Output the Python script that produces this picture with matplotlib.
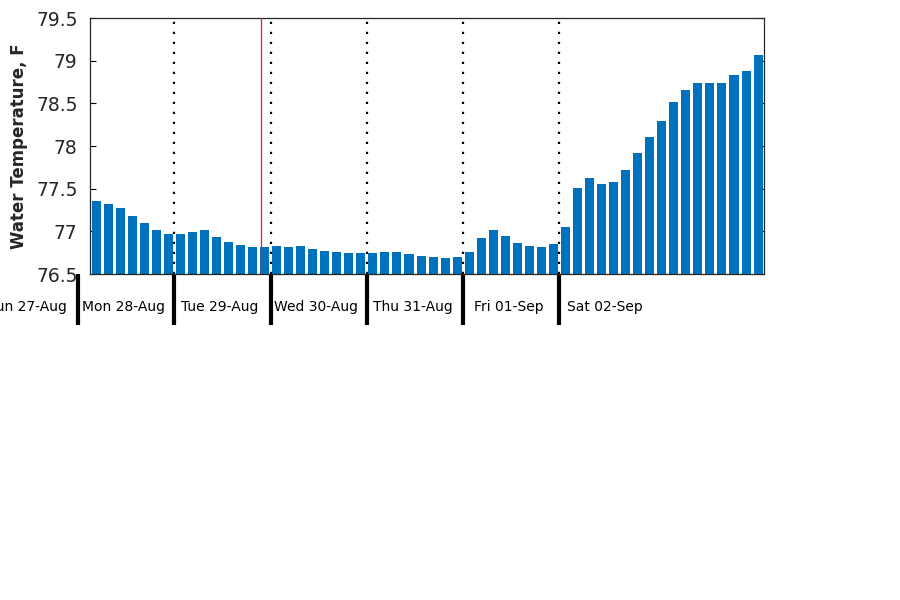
import matplotlib
matplotlib.use("Agg")
import matplotlib.pyplot as plt
import matplotlib.transforms as mtransforms

temps = [77.355, 77.320, 77.273, 77.180, 77.098, 77.016, 76.969, 76.969,
         76.992, 77.016, 76.934, 76.875, 76.840, 76.816, 76.816, 76.828,
         76.816, 76.828, 76.793, 76.770, 76.758, 76.746, 76.746, 76.746,
         76.758, 76.758, 76.734, 76.711, 76.699, 76.688, 76.699, 76.758,
         76.922, 77.016, 76.945, 76.863, 76.828, 76.816, 76.852, 77.051,
         77.508, 77.625, 77.555, 77.578, 77.719, 77.918, 78.105, 78.293,
         78.516, 78.656, 78.738, 78.738, 78.738, 78.832, 78.879, 79.066]
day_labels = ["Sun 27-Aug", "Mon 28-Aug", "Tue 29-Aug", "Wed 30-Aug",
              "Thu 31-Aug", "Fri 01-Sep", "Sat 02-Sep"]
day_starts = [-9.5, -1.5, 6.5, 14.5, 22.5, 30.5, 38.5]
now_x = 13.73
yticks = [76.5, 77, 77.5, 78, 78.5, 79, 79.5]
ytick_labels = ["76.5", "77", "77.5", "78", "78.5", "79", "79.5"]

fig = plt.figure(figsize=(9, 6), dpi=100)
ax = fig.add_axes([0.1, 0.5433, 0.749, 0.4267])

x = list(range(len(temps)))
ax.bar(x, [t - 76.5 for t in temps], bottom=76.5, width=0.75, color="#0072BD", zorder=2)
ax.set_xlim(-0.5, 55.5)
ax.set_ylim(76.5, 79.5)
ax.set_yticks(yticks)
ax.set_yticklabels(ytick_labels)
ax.set_xticks([])
ax.tick_params(axis="y", direction="in", length=4, width=0.8, left=True, right=True,
               labelsize=13.5, labelcolor="#262626", pad=9)
for s in ax.spines.values():
    s.set_linewidth(0.9)
    s.set_color("#262626")

ax.set_ylabel("Water Temperature, F", fontsize=12, fontweight="bold", color="#262626", labelpad=6)

for d in day_starts:
    if d > -0.5:
        ax.axvline(d, color="black", linestyle=(0, (1, 3.5)), linewidth=1.6, zorder=3)
ax.axvline(now_x, color="#e02020", linewidth=0.9, zorder=3)

trans = mtransforms.blended_transform_factory(ax.transData, ax.transAxes)
for d, lab in zip(day_starts, day_labels):
    ax.plot([d, d], [0, -0.2], transform=trans, color="black", linewidth=3,
            clip_on=False, solid_capstyle="butt")
    ax.text(d + 4 - 0.2, -0.129, lab, transform=trans, ha="center", va="center",
            fontsize=10, clip_on=False)

fig.savefig("out.png", dpi=100)
